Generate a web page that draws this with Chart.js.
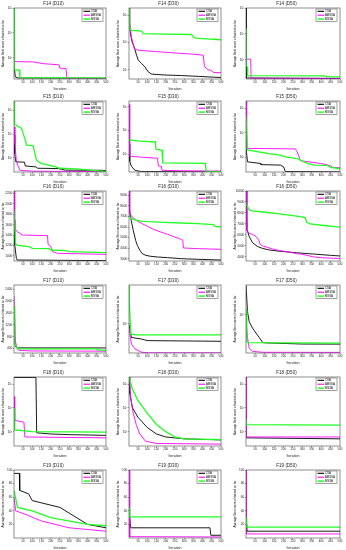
<!DOCTYPE html>
<html>
<head>
<meta charset="utf-8">
<script src="https://cdn.jsdelivr.net/npm/chart.js@4.4.1/dist/chart.umd.min.js"></script>
<style>
  html, body { margin: 0; padding: 0; background: #fff; }
  #wrap { position: relative; width: 346px; height: 550px; overflow: hidden; }
  .panel { position: absolute; }
</style>
</head>
<body>
<div id="wrap"></div>
<script>
// ---- data (iteration, best score) ----
const seriesNames = ['CSA', 'AMSSA', 'MSSA'];
const xTicks = [50, 100, 150, 200, 250, 300, 350, 400, 450, 500];

// F14 (D10)
const f14d10Csa = [[1,12],[3,4],[8,1.7],[20,1.55],[500,1.5]];
const f14d10Amssa = [[1,30],[4,7],[105,6.8],[160,5.8],[245,5.2],[250,3.8],[283,3.7],[288,1.5],[500,1.48]];
const f14d10Mssa = [[1,1000],[3,900],[4,3.3],[30,3.2],[33,1.6],[500,1.56]];
// F14 (D30)
const f14d30Csa = [[1,1800],[4,500],[9,207],[18,103],[29,68],[42,34],[51,22.5],[69,17],[87,12.8],[105,8.4],[123,6.9],[196,6.4],[286,6.1],[377,5.7],[467,5.3],[500,5.2]];
const f14d30Amssa = [[1,1800],[5,600],[14,155],[30,60],[50,52],[150,46],[250,41],[350,37],[404,34],[410,13],[430,10],[445,9.5],[460,7.9],[500,7.8]];
const f14d30Mssa = [[1,1800],[4,350],[14,275],[70,260],[78,210],[200,202],[340,195],[350,160],[362,144],[420,135],[500,125]];
// F14 (D50)
const f14d50Csa = [[1,1000],[2,2],[500,1.9]];
const f14d50Amssa = [[1,12],[3,10.7],[26,10.5],[28,1.95],[500,1.93]];
const f14d50Mssa = [[1,160],[2,5.6],[8,5.4],[10,2.45],[420,2.4],[430,2.2],[500,2.2]];
// F15 (D10)
const f15d10Csa = [[1,91],[5,15],[11,6.7],[58,6.5],[62,4.5],[120,4.1],[130,3.6],[240,3.5],[280,3.0],[480,2.95],[500,2.8]];
const f15d10Amssa = [[1,204],[6,40],[14,6.7],[33,2.95],[100,2.7],[500,2.6]];
const f15d10Mssa = [[1,2500],[4,257],[42,174],[65,47],[69,34],[105,32],[123,7.9],[150,5.7],[196,4.8],[223,4.2],[250,3.6],[340,3.4],[500,2.6]];
// F15 (D30)
const f15d30Csa = [[1,26],[5,5],[14,3.1],[33,2.1],[69,1.85],[500,1.8]];
const f15d30Amssa = [[1,1290],[5,8.3],[60,7.6],[156,6.8],[160,3.2],[176,3.1],[180,2.1],[300,2.0],[500,1.95]];
const f15d30Mssa = [[1,40],[60,36],[144,33],[148,16],[180,15],[184,4.3],[415,4.1],[420,1.85],[500,1.82]];
// F15 (D50)
const f15d50Csa = [[1,25],[9,6.5],[77,5.6],[80,5.0],[183,4.8],[200,4.1],[210,2.6],[500,2.52]];
const f15d50Amssa = [[1,1995],[4,25],[5,23],[150,22.5],[263,22],[272,17],[281,11.4],[290,7.2],[335,6.5],[397,5.6],[450,4.5],[460,3.9],[500,3.7]];
const f15d50Mssa = [[1,480],[9,20],[60,17],[120,14],[183,12.3],[210,10.4],[272,8.9],[290,7.6],[326,5.6],[361,4.8],[432,4.7],[450,3.9],[500,3.4]];
// F16 (D10)
const f16d10Csa = [[1,1691],[5,1209],[14,950],[18,919],[500,907]];
const f16d10Amssa = [[1,2250],[5,1530],[18,1466],[46,1401],[183,1389],[186,1221],[201,1176],[210,1080],[238,1048],[500,1028]];
const f16d10Mssa = [[1,1884],[9,1240],[20,1200],[82,1176],[100,1144],[192,1140],[200,1112],[280,1100],[300,1080],[500,1062]];
// F16 (D30)
const f16d30Csa = [[1,9410],[4,7580],[13,6632],[24,5684],[37,4736],[46,4265],[60,3788],[73,3476],[92,3317],[119,3224],[156,3158],[210,3098],[284,2999],[375,2940],[500,2873]];
const f16d30Amssa = [[1,9410],[5,7262],[18,6950],[31,6790],[46,6566],[73,6314],[101,6062],[137,5750],[174,5525],[210,5306],[247,5054],[275,4895],[293,4736],[296,4013],[375,3947],[500,3887]];
const f16d30Mssa = [[1,7103],[9,6851],[27,6692],[64,6566],[101,6506],[192,6440],[284,6380],[375,6314],[458,6221],[467,6062],[500,6002]];
// F16 (D50)
const f16d50Csa = [[1,10000],[5,6573],[18,5860],[36,5286],[63,4942],[90,4770],[126,4630],[180,4515],[234,4433],[270,4380],[360,4260],[450,4146],[500,4088]];
const f16d50Amssa = [[1,10000],[5,6433],[18,6146],[36,6057],[54,5860],[68,5573],[76,5146],[90,5000],[117,4860],[144,4713],[180,4573],[234,4433],[270,4300],[297,4240],[324,4146],[360,4000],[414,3917],[500,3859]];
const f16d50Mssa = [[1,8860],[9,8573],[18,8286],[36,8197],[90,8089],[180,7917],[270,7713],[315,7573],[324,7146],[342,7000],[414,6860],[500,6713]];
// F17 (D10)
const f17d10Csa = [[1,970],[9,456],[18,422],[500,420]];
const f17d10Amssa = [[1,2171],[9,627],[18,398],[27,341],[100,318],[500,312]];
const f17d10Mssa = [[1,1828],[5,570],[13,456],[27,390],[448,387],[457,345],[500,343]];
// F17 (D30)
const f17d30Csa = [[1,9795],[14,6310],[33,6166],[69,5970],[87,5770],[105,5650],[500,5520]];
const f17d30Amssa = [[1,8770],[14,5060],[33,4270],[69,3820],[105,3740],[500,3735]];
const f17d30Mssa = [[1,37000],[3,20000],[11,7047],[40,6890],[500,6850]];
// F17 (D50)
const f17d50Csa = [[1,27500],[9,11150],[18,7943],[36,6370],[54,5420],[72,4620],[90,3930],[108,3880],[300,3730],[500,3720]];
const f17d50Amssa = [[1,8414],[9,4620],[18,3250],[36,2910],[90,2820],[500,2810]];
const f17d50Mssa = [[1,12000],[5,4100],[10,3900],[500,3850]];
// F18 (D10)
const f18d10Csa = [[1,1900],[120,1900],[124,9],[200,8],[300,7.5],[500,7]];
const f18d10Amssa = [[1,300],[5,30],[55,25],[60,6],[500,5.5]];
const f18d10Mssa = [[1,100],[5,12],[100,10],[500,9.5]];
// F18 (D30)
const f18d30Csa = [[1,1995],[5,400],[20,100],[50,40],[100,15],[150,8],[200,6],[300,5],[500,4.5]];
const f18d30Amssa = [[1,1995],[10,300],[20,80],[40,20],[60,8],[90,4],[150,3.2],[500,3.0]];
const f18d30Mssa = [[1,1995],[20,600],[50,200],[100,60],[150,20],[200,10],[250,6],[300,5],[500,4.6]];
// F18 (D50)
const f18d50Csa = [[1,5.5],[500,5]];
const f18d50Amssa = [[1,1995],[3,6],[500,6]];
const f18d50Mssa = [[1,30],[3,20],[500,19]];
// F19 (D10)
const f19d10Csa = [[1,95],[30,95],[32,70],[80,65],[100,55],[250,45],[400,20],[500,15]];
const f19d10Amssa = [[1,60],[10,40],[60,35],[150,25],[300,15],[500,10]];
const f19d10Mssa = [[1,70],[20,45],[100,40],[200,30],[400,20],[500,18]];
// F19 (D30)
const f19d30Csa = [[1,40],[10,15],[440,15],[445,4],[500,4]];
const f19d30Amssa = [[1,100],[5,2],[500,1.5]];
const f19d30Mssa = [[1,45],[5,31],[500,31]];
// F19 (D50)
const f19d50Csa = [[1,20],[5,10],[500,10]];
const f19d50Amssa = [[1,100],[3,6],[500,6]];
const f19d50Mssa = [[1,30],[5,16],[500,16]];

// y axes per panel
const logTicks3 = [10, 100, 1000];
const logLabels3 = ['10\u00b9', '10\u00b2', '10\u00b3'];

const panels = [
  { title: 'F14 (D10)', data: [f14d10Csa, f14d10Amssa, f14d10Mssa], type: 'logarithmic', min: 1.4, max: 1000, ticks: logTicks3, labels: logLabels3 },
  { title: 'F14 (D30)', data: [f14d30Csa, f14d30Amssa, f14d30Mssa], type: 'logarithmic', min: 4.57, max: 1820, ticks: logTicks3, labels: logLabels3 },
  { title: 'F14 (D50)', data: [f14d50Csa, f14d50Amssa, f14d50Mssa], type: 'logarithmic', min: 1.82, max: 1000, ticks: logTicks3, labels: logLabels3 },
  { title: 'F15 (D10)', data: [f15d10Csa, f15d10Amssa, f15d10Mssa], type: 'logarithmic', min: 2.5, max: 2512, ticks: logTicks3, labels: logLabels3 },
  { title: 'F15 (D30)', data: [f15d30Csa, f15d30Amssa, f15d30Mssa], type: 'logarithmic', min: 1.78, max: 1778, ticks: logTicks3, labels: logLabels3 },
  { title: 'F15 (D50)', data: [f15d50Csa, f15d50Amssa, f15d50Mssa], type: 'logarithmic', min: 2.5, max: 1995, ticks: logTicks3, labels: logLabels3 },
  { title: 'F16 (D10)', data: [f16d10Csa, f16d10Amssa, f16d10Mssa], type: 'linear', min: 900, max: 2250, ticks: [1000, 1200, 1400, 1600, 1800, 2000, 2200], labels: null },
  { title: 'F16 (D30)', data: [f16d30Csa, f16d30Amssa, f16d30Mssa], type: 'linear', min: 2780, max: 9410, ticks: [3000, 4000, 5000, 6000, 7000, 8000, 9000], labels: null },
  { title: 'F16 (D50)', data: [f16d50Csa, f16d50Amssa, f16d50Mssa], type: 'linear', min: 3630, max: 10000, ticks: [4000, 5000, 6000, 7000, 8000, 9000, 10000], labels: null },
  { title: 'F17 (D10)', data: [f17d10Csa, f17d10Amssa, f17d10Mssa], type: 'linear', min: 250, max: 2537, ticks: [400, 800, 1200, 1600, 2000, 2400], labels: null },
  { title: 'F17 (D30)', data: [f17d30Csa, f17d30Amssa, f17d30Mssa], type: 'logarithmic', min: 3715, max: 37154, ticks: [10000], labels: ['10\u2074'] },
  { title: 'F17 (D50)', data: [f17d50Csa, f17d50Amssa, f17d50Mssa], type: 'logarithmic', min: 2754, max: 27542, ticks: [10000], labels: ['10\u2074'] },
  { title: 'F18 (D10)', data: [f18d10Csa, f18d10Amssa, f18d10Mssa], type: 'logarithmic', min: 2.5, max: 1995, ticks: logTicks3, labels: logLabels3 },
  { title: 'F18 (D30)', data: [f18d30Csa, f18d30Amssa, f18d30Mssa], type: 'logarithmic', min: 2.5, max: 1995, ticks: logTicks3, labels: logLabels3 },
  { title: 'F18 (D50)', data: [f18d50Csa, f18d50Amssa, f18d50Mssa], type: 'logarithmic', min: 2.5, max: 1995, ticks: logTicks3, labels: logLabels3 },
  { title: 'F19 (D10)', data: [f19d10Csa, f19d10Amssa, f19d10Mssa], type: 'linear', min: 0, max: 100, ticks: [20, 40, 60, 80, 100], labels: null },
  { title: 'F19 (D30)', data: [f19d30Csa, f19d30Amssa, f19d30Mssa], type: 'linear', min: 0, max: 100, ticks: [20, 40, 60, 80, 100], labels: null },
  { title: 'F19 (D50)', data: [f19d50Csa, f19d50Amssa, f19d50Mssa], type: 'linear', min: 0, max: 100, ticks: [20, 40, 60, 80, 100], labels: null }
];

// ---- layout of the 6 x 3 grid ----
const colLeft = [14, 129, 246];
const colWidth = [92, 92, 94];
const rowTop = [8, 101, 191, 285, 377, 470];
const rowHeight = [71, 71, 70, 68, 69, 68];
const colors = ['#000000', '#ff00ff', '#22ff22'];
const widths = [0.9, 0.9, 1.3];

const Y_W = 13, X_H = 13, TOP = 8, RIGHT = 4;

// box round the plot area (MATLAB style)
const boxPlugin = {
  id: 'box',
  afterDatasetsDraw(chart) {
    const a = chart.chartArea, ctx = chart.ctx;
    ctx.save();
    ctx.strokeStyle = '#444';
    ctx.lineWidth = 0.6;
    ctx.strokeRect(a.left, a.top, a.right - a.left, a.bottom - a.top);
    ctx.restore();
  }
};

// small legend in the upper right corner of the plot area
const legendPlugin = {
  id: 'boxLegend',
  afterDraw(chart) {
    const a = chart.chartArea, ctx = chart.ctx;
    const w = 21, h = 12.5;
    const x = a.right - w - 3, y = a.top + 1;
    ctx.save();
    ctx.fillStyle = '#fff';
    ctx.fillRect(x, y, w, h);
    ctx.strokeStyle = '#444';
    ctx.lineWidth = 0.5;
    ctx.strokeRect(x, y, w, h);
    ctx.font = '2.8px "Liberation Sans", Arial, sans-serif';
    ctx.textBaseline = 'middle';
    seriesNames.forEach((name, i) => {
      const yy = y + 2.3 + i * 3.9;
      ctx.strokeStyle = colors[i];
      ctx.lineWidth = widths[i] + 0.2;
      ctx.beginPath();
      ctx.moveTo(x + 1.5, yy);
      ctx.lineTo(x + 8, yy);
      ctx.stroke();
      ctx.fillStyle = '#000';
      ctx.fillText(name, x + 9, yy);
    });
    ctx.restore();
  }
};

const wrap = document.getElementById('wrap');
panels.forEach((p, k) => {
  const row = Math.floor(k / 3), col = k % 3;
  const div = document.createElement('div');
  div.className = 'panel';
  const cw = colWidth[col] + Y_W + RIGHT;
  const ch = rowHeight[row] + TOP + X_H;
  div.style.left = (colLeft[col] - Y_W) + 'px';
  div.style.top = (rowTop[row] - TOP) + 'px';
  div.style.width = cw + 'px';
  div.style.height = ch + 'px';
  const canvas = document.createElement('canvas');
  div.appendChild(canvas);
  wrap.appendChild(div);

  new Chart(canvas, {
    type: 'line',
    data: {
      datasets: p.data.map((d, i) => ({
        label: seriesNames[i],
        data: d,
        borderColor: colors[i],
        borderWidth: widths[i],
        pointRadius: 0,
        tension: 0,
        fill: false,
        order: 2 - i
      }))
    },
    options: {
      responsive: true,
      maintainAspectRatio: false,
      animation: false,
      layout: { padding: { top: 0, right: RIGHT, left: 0, bottom: 0 } },
      plugins: {
        legend: { display: false },
        tooltip: { enabled: false },
        title: {
          display: true,
          text: p.title,
          color: '#222',
          font: { size: 4.5, family: 'Liberation Sans', weight: 'normal' },
          padding: { top: 1, bottom: 1.6 }
        }
      },
      scales: {
        x: {
          type: 'linear',
          min: 1,
          max: 500,
          afterBuildTicks: axis => { axis.ticks = xTicks.map(v => ({ value: v })); },
          afterFit: s => { s.height = X_H; },
          grid: { drawOnChartArea: false, drawTicks: true, tickLength: 1.2, color: '#444', lineWidth: 0.5 },
          border: { display: false },
          ticks: { autoSkip: false, maxRotation: 0, padding: 0.5, color: '#222', font: { size: 2.9, family: 'Liberation Sans' } },
          title: { display: true, text: 'Iteration', color: '#222', padding: 0.5, font: { size: 3.6, family: 'Liberation Sans' } }
        },
        y: {
          type: p.type,
          min: p.min,
          max: p.max,
          afterBuildTicks: axis => { axis.ticks = p.ticks.map(v => ({ value: v })); },
          afterFit: s => { s.width = Y_W; },
          grid: { drawOnChartArea: false, drawTicks: true, tickLength: 1.2, color: '#444', lineWidth: 0.5 },
          border: { display: false },
          ticks: {
            padding: 0.5,
            color: '#222',
            font: { size: 3.2, family: 'Liberation Sans' },
            callback: (v, i) => p.labels ? p.labels[i] : String(v)
          },
          title: { display: true, text: 'Average Best score obtained so far', color: '#222', padding: 0.5, font: { size: 3, family: 'Liberation Sans' } }
        }
      }
    },
    plugins: [boxPlugin, legendPlugin]
  });
});
</script>
</body>
</html>
